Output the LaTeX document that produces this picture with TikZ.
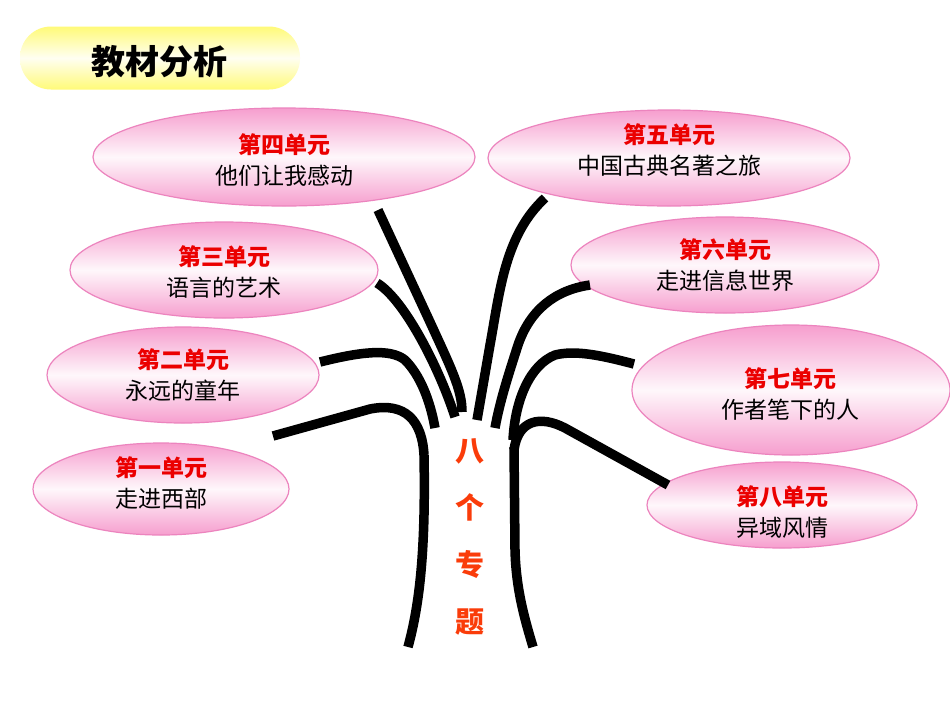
\documentclass[tikz,border=0pt]{standalone}
\usepackage{fontspec}
\newfontfamily\cjk{Noto Sans CJK SC}
\usetikzlibrary{shapes.geometric}
\definecolor{pinkc}{RGB}{246,158,206}
\definecolor{pinkb}{RGB}{236,132,190}
\definecolor{yel}{RGB}{255,250,120}
\definecolor{redt}{RGB}{235,0,0}
\definecolor{orgt}{RGB}{250,60,10}
\tikzset{
  unit/.style={ellipse, draw=pinkb, line width=1.2pt, top color=pinkc, bottom color=pinkc, middle color=white!92!pinkc, inner sep=0pt},
  lbl/.style={align=center, font=\cjk\fontsize{23}{31}\selectfont, inner sep=0pt},
  branch/.style={line width=9.5pt, line cap=butt, line join=round},
  titlebox/.style={rectangle, rounded corners=31pt, top color=yel, bottom color=yel, middle color=white!90!yel, draw=none}
}
\newcommand{\rt}[1]{\textcolor{redt}{\bfseries #1}}
\begin{document}
\begin{tikzpicture}[x=1pt,y=-1pt]
\useasboundingbox (0,0) rectangle (950,713);
\fill[white] (0,0) rectangle (950,713);
% title
\node[titlebox, minimum width=280pt, minimum height=63pt] (title) at (160,58) {};
\node[font=\cjk\fontsize{34}{36}\selectfont\bfseries, inner sep=0pt] (titletext) at (159,62) {教材分析};
% ellipses
\node[unit, minimum width=382pt, minimum height=98pt] (u4) at (284,157) {};
\node[unit, minimum width=362pt, minimum height=96pt] (u5) at (669,158) {};
\node[unit, minimum width=308pt, minimum height=96pt] (u3) at (224,270) {};
\node[unit, minimum width=308pt, minimum height=96pt] (u6) at (725,265) {};
\node[unit, minimum width=272pt, minimum height=96pt] (u2) at (183,375) {};
\node[unit, minimum width=318pt, minimum height=130pt] (u7) at (791,390) {};
\node[unit, minimum width=256pt, minimum height=92pt] (u1) at (161,489) {};
\node[unit, minimum width=270pt, minimum height=86pt] (u8) at (782,505) {};
% labels
\node[lbl] (t4) at (284,160) {\rt{第四单元}\\他们让我感动};
\node[lbl] (t5) at (669,150) {\rt{第五单元}\\中国古典名著之旅};
\node[lbl] (t3) at (224,272) {\rt{第三单元}\\语言的艺术};
\node[lbl] (t6) at (725,265) {\rt{第六单元}\\走进信息世界};
\node[lbl] (t2) at (183,375) {\rt{第二单元}\\永远的童年};
\node[lbl] (t7) at (790,394) {\rt{第七单元}\\作者笔下的人};
\node[lbl] (t1) at (161,483) {\rt{第一单元}\\走进西部};
\node[lbl] (t8) at (782,512) {\rt{第八单元}\\异域风情};
% centre text
\node[font=\cjk\fontsize{29}{57}\selectfont\bfseries, text=orgt, align=center, inner sep=0pt] (center) at (470,537) {八\\个\\专\\题};
% trunk and branches
\draw[branch] (424,455) .. controls (426,560) and (418,610) .. (408,647);
\draw[branch] (514,447) -- (515,550) .. controls (516,590) and (525,620) .. (533,647);
\draw[branch] (273,436) -- (370,409) .. controls (405,402) and (422,420) .. (424,455);
\draw[branch] (320,362) .. controls (360,352) and (390,348) .. (405,360) .. controls (420,375) and (430,400) .. (435,428);
\draw[branch] (377,283) .. controls (405,300) and (440,370) .. (455,417);
\draw[branch] (378,210) -- (430,322) .. controls (452,370) and (462,390) .. (462,412);
\draw[branch] (545,198) .. controls (505,235) and (500,290) .. (490,345) -- (477,420);
\draw[branch] (590,285) .. controls (555,290) and (530,310) .. (518,345) .. controls (510,370) and (500,400) .. (495,428);
\draw[branch] (634,364) .. controls (600,355) and (575,350) .. (555,355) .. controls (530,365) and (515,400) .. (513,440);
\draw[branch] (668,485) -- (565,428) .. controls (540,415) and (518,420) .. (514,450);
\end{tikzpicture}
\end{document}
